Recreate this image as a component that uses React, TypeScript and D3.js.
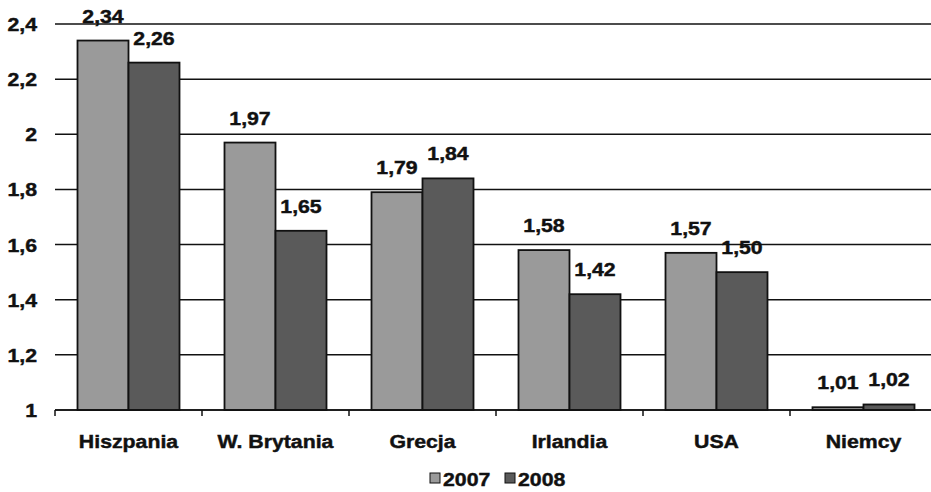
import React from "react";
import * as d3 from "d3";

const categories = ["Hiszpania", "W. Brytania", "Grecja", "Irlandia", "USA", "Niemcy"];
const seriesNames = ["2007", "2008"];
const values2007 = [2.34, 1.97, 1.79, 1.58, 1.57, 1.01];
const values2008 = [2.26, 1.65, 1.84, 1.42, 1.5, 1.02];
const yTicks = [1, 1.2, 1.4, 1.6, 1.8, 2, 2.2, 2.4];

const W = 931;
const H = 492;
const FONT = "'Liberation Sans', Arial, sans-serif";
const COLORS = ["#9a9a9a", "#5a5a5a"];
const SX = 1.12; // horizontal stretch applied to all text

const fmt = (v: number) => d3.format(".2f")(v).replace(".", ",");
const fmtTick = (v: number) => String(+v.toFixed(1)).replace(".", ",");

function T({ x, y, anchor = "middle", size = 19, children }: any) {
  return (
    <text
      transform={`translate(${x},${y}) scale(${SX},1)`}
      textAnchor={anchor}
      fontFamily={FONT}
      fontWeight="bold"
      fontSize={size}
      fill="#111"
      stroke="#111"
      strokeWidth={0.45}
    >
      {children}
    </text>
  );
}

export default function App() {
  const left = 55;
  const band = 147;
  const x0 = d3
    .scaleBand<string>()
    .domain(categories)
    .range([left, left + band * categories.length]);
  const x1 = d3.scaleBand<string>().domain(seriesNames).range([22.5, 124.5]);
  const y = d3.scaleLinear().domain([1, 2.4]).range([410, 24]);
  const series = [values2007, values2008];

  return (
    <svg
      width={W}
      height={H}
      style={{ position: "fixed", left: 0, top: 0, background: "#fff" }}
    >
      <rect width={W} height={H} fill="#fff" />
      {/* gridlines */}
      {yTicks.map((t) => (
        <line
          key={t}
          x1={left}
          x2={W}
          y1={y(t)}
          y2={y(t)}
          stroke="#111"
          strokeWidth={1.5}
        />
      ))}
      {/* y labels */}
      {yTicks.map((t) => (
        <T key={"l" + t} x={37} y={y(t) + 7} anchor="end">
          {fmtTick(t)}
        </T>
      ))}
      {/* bars */}
      {categories.map((c, i) =>
        seriesNames.map((s, j) => {
          const v = series[j][i];
          const bx = (x0(c) as number) + (x1(s) as number);
          const bw = x1.bandwidth();
          return (
            <g key={c + s}>
              <rect
                x={bx}
                y={y(v)}
                width={bw}
                height={y(1) - y(v)}
                fill={COLORS[j]}
                stroke="#111"
                strokeWidth={1.8}
              />
              <T x={bx + bw / 2} y={y(v) - 18}>
                {fmt(v)}
              </T>
            </g>
          );
        })
      )}
      {/* x axis */}
      <line x1={left} x2={W} y1={y(1)} y2={y(1)} stroke="#111" strokeWidth={1.5} />
      {categories.map((c) => (
        <line
          key={"t" + c}
          x1={x0(c)}
          x2={x0(c)}
          y1={y(1)}
          y2={y(1) + 6}
          stroke="#111"
          strokeWidth={1.5}
        />
      ))}
      {categories.map((c) => (
        <T key={"c" + c} x={(x0(c) as number) + band / 2} y={448}>
          {c}
        </T>
      ))}
      {/* legend */}
      {seriesNames.map((s, j) => {
        const lx = 430 + j * 75;
        return (
          <g key={"lg" + s}>
            <rect
              x={lx}
              y={473}
              width={10}
              height={10}
              fill={COLORS[j]}
              stroke="#111"
              strokeWidth={1}
            />
            <T x={lx + 13} y={486} anchor="start">
              {s}
            </T>
          </g>
        );
      })}
    </svg>
  );
}
